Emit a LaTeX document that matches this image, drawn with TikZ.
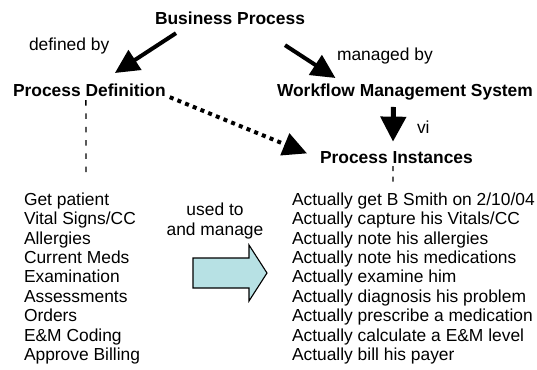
\documentclass[tikz,border=0pt]{standalone}
\usepackage{fontspec}
\setmainfont{Liberation Sans}
\usetikzlibrary{arrows.meta,calc}
\definecolor{blockfill}{RGB}{183,225,228}
\begin{document}
\begin{tikzpicture}[x=1pt,y=-1pt,
  lbl/.style={anchor=base west,inner sep=0pt,outer sep=0pt,font=\fontsize{17.4}{19.4}\selectfont},
  ttl/.style={lbl,font=\fontsize{17.4}{19.4}\selectfont\bfseries},
  list/.style={lbl,align=left},
  thickarrow/.style={line width=4pt,-{Triangle[length=24pt,width=23pt]}},
  dotarrow/.style={line width=4pt,dash pattern=on 4pt off 4.3pt,-{Triangle[length=24pt,width=23pt]}},
  thindash/.style={line width=1.3pt,dash pattern=on 5.5pt off 7.8pt},
  blockarrow/.style={draw=black,line width=1.1pt,fill=blockfill,line join=miter}
]
\useasboundingbox (0,0) rectangle (537,369);

% dashed guide lines (drawn first, behind text)
\node[ttl] (pd) at (13,96) {Process Definition};
\node[ttl] (pi) at (320,163) {Process Instances};
\coordinate (pdend) at (86,172);
\coordinate (piend) at (393,184);
\draw[thindash] ($(pd.south)+(-3.5,4)$) -- (pdend);
\draw[line width=1.3pt,dash pattern=on 5pt off 5.5pt] ($(pi.south)+(-3.4,3)$) -- (piend);

\node[ttl,anchor=base] (bp) at (230,25) {Business Process};
\node[lbl] (defby) at (29,50) {defined by};
\node[lbl] (mgby) at (337,60) {managed by};
\node[ttl] (wms) at (277,96) {Workflow Management System};
\node[lbl] (vi) at (417,133) {vi};

% arrows
\draw[thickarrow] ($(bp.south)+(-54,8)$) -- ($(pd.north)+(25.5,-10.4)$);
\draw[thickarrow] ($(bp.south)+(55,20)$) -- ($(wms.north)+(-69.5,-5.4)$);
\draw[line width=5pt,-{Triangle[length=25pt,width=25pt]}] ($(wms.south)+(-11.5,7.3)$) -- ($(pi.north)+(-3.4,-9.4)$);
\draw[dotarrow] ($(pd.south east)+(4,1)$) -- ($(pi.west)+(-13,-3.7)$);

% lists (base anchor = baseline of the last line)
\node[list] (steps) at (24,360.5) {Get patient\\Vital Signs/CC\\Allergies\\Current Meds\\Examination\\Assessments\\Orders\\E\&M Coding\\Approve Billing};
\node[list] (acts) at (292,360.5) {Actually get B Smith on 2/10/04\\Actually capture his Vitals/CC\\Actually note his allergies\\Actually note his medications\\Actually examine him\\Actually diagnosis his problem\\Actually prescribe a medication\\Actually calculate a E\&M level\\Actually bill his payer};

\node[lbl,anchor=base,align=center] (used) at (215,235) {used to\\and manage};

% block arrow
\draw[blockarrow] (193,258) -- (249,258) -- (249,245) -- (267,273) -- (249,301) -- (249,288) -- (193,288) -- cycle;
\end{tikzpicture}
\end{document}
